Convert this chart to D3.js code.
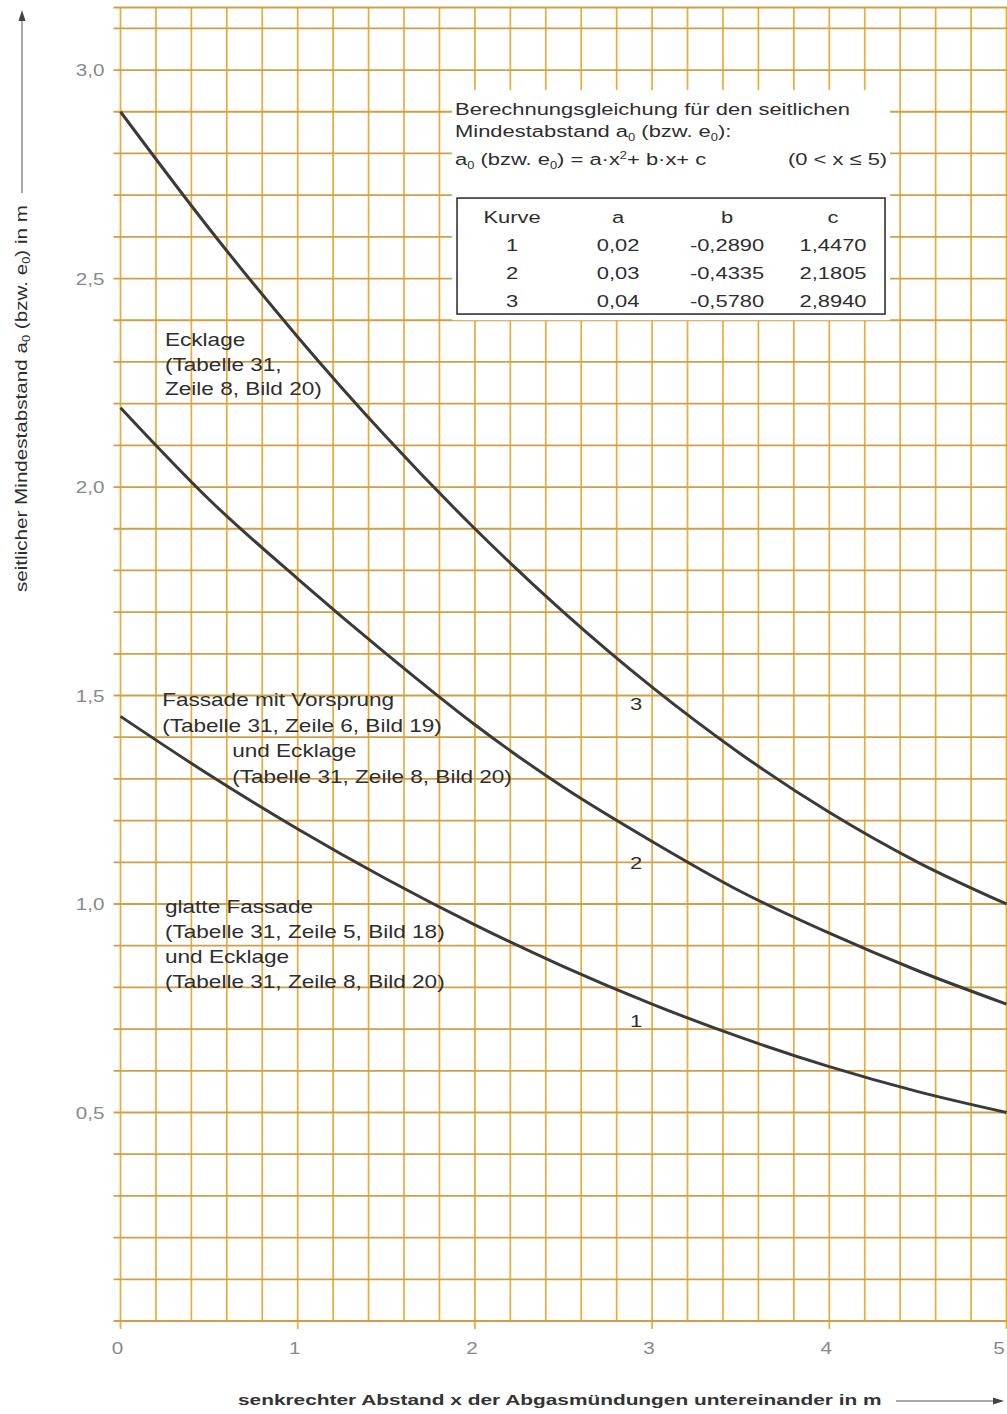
<!DOCTYPE html>
<html>
<head>
<meta charset="utf-8">
<script src="https://cdn.jsdelivr.net/npm/d3@7"></script>
<style>
  html, body { margin: 0; padding: 0; background: #fff; }
  svg { display: block; font-family: "Liberation Sans", Arial, sans-serif; }
</style>
</head>
<body>
<svg id="chart" width="1007" height="1414"></svg>
<script>
// axis ticks
const xTicks = [0, 1, 2, 3, 4, 5];
const xTickLabels = ['0', '1', '2', '3', '4', '5'];
const yTicks = [0.5, 1.0, 1.5, 2.0, 2.5, 3.0];
const yTickLabels = ['0,5', '1,0', '1,5', '2,0', '2,5', '3,0'];

// curves, every 0.5 m
const xValues = [0, 0.5, 1, 1.5, 2, 2.5, 3, 3.5, 4, 4.5, 5];
const curve1 = [1.45, 1.31, 1.18, 1.06, 0.95, 0.85, 0.76, 0.68, 0.61, 0.55, 0.50];
const curve2 = [2.19, 1.97, 1.78, 1.60, 1.43, 1.28, 1.15, 1.03, 0.93, 0.84, 0.76];
const curve3 = [2.90, 2.62, 2.36, 2.12, 1.90, 1.70, 1.52, 1.36, 1.22, 1.10, 1.00];
const curveNames = ['1', '2', '3'];

// coefficient table
const tableHeader = ['Kurve', 'a', 'b', 'c'];
const tableRows = [
  ['1', '0,02', '-0,2890', '1,4470'],
  ['2', '0,03', '-0,4335', '2,1805'],
  ['3', '0,04', '-0,5780', '2,8940']
];

// annotation texts
const labelEcklage = ['Ecklage', '(Tabelle 31,', 'Zeile 8, Bild 20)'];
const labelVorsprung = ['Fassade mit Vorsprung', '(Tabelle 31, Zeile 6, Bild 19)', 'und Ecklage', '(Tabelle 31, Zeile 8, Bild 20)'];
const labelGlatt = ['glatte Fassade', '(Tabelle 31, Zeile 5, Bild 18)', 'und Ecklage', '(Tabelle 31, Zeile 8, Bild 20)'];

const SX = 1.29;          // glyphs in the original are drawn wide
const textColor = '#2e2e2e';
const tickColor = '#8a8a8a';

const svg = d3.select('#chart');
const x = d3.scaleLinear().domain([0, 5]).range([120.5, 1006.5]);
const y = d3.scaleLinear().domain([0, 3.15]).range([1321, 7.5]);

function label(parent, px, py, str, opts = {}) {
  return parent.append('text')
    .attr('transform', `translate(${px},${py}) scale(${opts.sx || SX},1)`)
    .attr('font-size', opts.size || 17)
    .attr('font-weight', opts.weight || 'normal')
    .attr('fill', opts.color || textColor)
    .attr('text-anchor', opts.anchor || 'start')
    .text(str);
}

// grid
const grid = svg.append('g');
const vLines = d3.range(0, 26).map(i => +(i * 0.2).toFixed(1));
const hLines = d3.range(0, 32).map(i => +(i * 0.1).toFixed(1)).concat([3.15]);

grid.selectAll('line.v')
  .data(vLines)
  .join('line')
    .attr('class', 'v')
    .attr('x1', d => x(d)).attr('x2', d => x(d))
    .attr('y1', y(3.15))
    .attr('y2', d => Number.isInteger(d) ? y(0) + 8 : y(0))
    .attr('stroke', '#e6ad3a')
    .attr('stroke-width', 1.7);

grid.selectAll('line.h')
  .data(hLines)
  .join('line')
    .attr('class', 'h')
    .attr('x1', x(0) - 7).attr('x2', 1007)
    .attr('y1', d => y(d)).attr('y2', d => y(d))
    .attr('stroke', '#cf9f4a')
    .attr('stroke-width', 1.8);

// white field behind the equation
const boxLeft = x(1.871), boxTop = y(2.952);
const box = svg.append('g').attr('transform', `translate(${boxLeft},${boxTop})`);
box.append('rect')
  .attr('x', 0).attr('y', 0)
  .attr('width', x(4.343) - boxLeft)
  .attr('height', y(2.40) - boxTop)
  .attr('fill', '#fff');

label(box, 3, 25, 'Berechnungsgleichung für den seitlichen');
const l2 = label(box, 3, 47, 'Mindestabstand a');
l2.append('tspan').attr('font-size', 10).attr('dy', 4).text('0');
l2.append('tspan').attr('dy', -4).text(' (bzw. e');
l2.append('tspan').attr('font-size', 10).attr('dy', 4).text('0');
l2.append('tspan').attr('dy', -4).text('):');
const l3 = label(box, 3, 75, 'a');
l3.append('tspan').attr('font-size', 10).attr('dy', 4).text('0');
l3.append('tspan').attr('dy', -4).text(' (bzw. e');
l3.append('tspan').attr('font-size', 10).attr('dy', 4).text('0');
l3.append('tspan').attr('dy', -4).text(') = a·x');
l3.append('tspan').attr('font-size', 10).attr('dy', -6).text('2');
l3.append('tspan').attr('dy', 6).text('+ b·x+ c');
label(box, 336, 75, '(0 < x ≤ 5)');

box.append('rect')
  .attr('x', 5).attr('y', 108)
  .attr('width', 428).attr('height', 116)
  .attr('fill', 'none')
  .attr('stroke', '#333')
  .attr('stroke-width', 1.6);

const colX = [60, 166, 275, 381];
tableHeader.forEach((h, i) => label(box, colX[i], 133, h, { anchor: 'middle' }));
tableRows.forEach((row, r) => {
  row.forEach((v, i) => label(box, colX[i], 161 + r * 28, v, { anchor: 'middle' }));
});

// curves
const line = d3.line()
  .x((d, i) => x(xValues[i]))
  .y(d => y(d))
  .curve(d3.curveMonotoneX);

[curve1, curve2, curve3].forEach(c => {
  svg.append('path')
    .datum(c)
    .attr('d', line)
    .attr('fill', 'none')
    .attr('stroke', '#3a3a3a')
    .attr('stroke-width', 3);
});

// curve numbers
const numPos = [0.705, 1.084, 1.465];
curveNames.forEach((n, i) => label(svg, x(2.909), y(numPos[i]), n, { anchor: 'middle' }));

// annotation blocks
function block(lines, px, py, lh, indents) {
  lines.forEach((t, i) => label(svg, px + (indents ? indents[i] : 0), py + i * lh, t, { size: 17.5 }));
}
block(labelEcklage, x(0.251), y(2.338), 24.5);
block(labelVorsprung, x(0.235), y(1.475), 25.7, [0, 0, 70, 70]);
block(labelGlatt, x(0.251), y(0.978), 25);

// tick labels
yTicks.forEach((t, i) => label(svg, x(0) - 16, y(t) + 6, yTickLabels[i], { anchor: 'end', size: 16, color: tickColor }));
xTicks.forEach((t, i) => label(svg, Math.min(x(t) - 3, 999), y(0) + 33, xTickLabels[i], { anchor: 'middle', size: 16, color: tickColor }));

// axis titles
const yt = svg.append('text')
  .attr('transform', `translate(27,592) rotate(-90) scale(${SX},1)`)
  .attr('font-size', 16)
  .attr('fill', textColor)
  .text('seitlicher Mindestabstand a');
yt.append('tspan').attr('font-size', 10).attr('dy', 3).text('0');
yt.append('tspan').attr('dy', -3).text(' (bzw. e');
yt.append('tspan').attr('font-size', 10).attr('dy', 3).text('0');
yt.append('tspan').attr('dy', -3).text(') in m');

svg.append('line')
  .attr('x1', 22).attr('x2', 22).attr('y1', 193).attr('y2', 18)
  .attr('stroke', '#555').attr('stroke-width', 1);
svg.append('path')
  .attr('d', 'M22,10 L18.5,21 L25.5,21 Z')
  .attr('fill', '#444');

label(svg, 238, 1405, 'senkrechter Abstand x der Abgasmündungen untereinander in m',
  { size: 15, weight: 'bold', sx: 1.39, color: '#333' });
svg.append('line')
  .attr('x1', 896).attr('x2', 996).attr('y1', 1401).attr('y2', 1401)
  .attr('stroke', '#555').attr('stroke-width', 1);
svg.append('path')
  .attr('d', 'M1004,1401 L993,1397.5 L993,1404.5 Z')
  .attr('fill', '#444');
</script>
</body>
</html>
